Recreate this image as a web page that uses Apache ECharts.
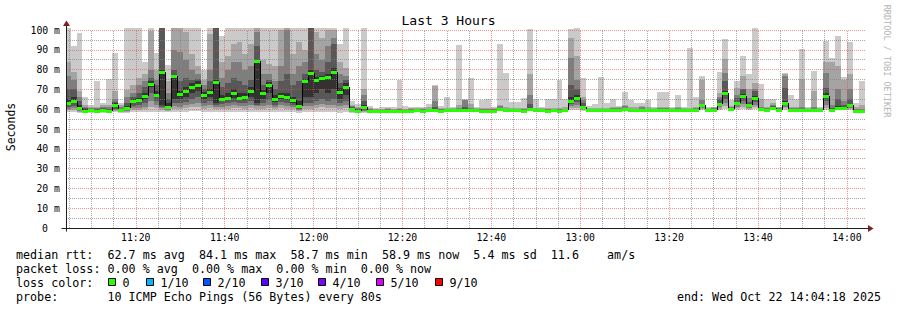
<!DOCTYPE html>
<html><head><meta charset="utf-8">
<script src="https://cdn.jsdelivr.net/npm/echarts@6/dist/echarts.min.js"></script>
<style>html,body{margin:0;padding:0;background:#fff}#c{width:897px;height:310px}</style>
</head><body><div id="c"></div>
<script>
// ---- data (seconds after 11:00:00; one sample every 80 s) ----
const startSec = 240;
const stepSec = 80;
const viewMin = 258;     // 11:04:18
const viewMax = 11058;   // 14:04:18
const tickValues = [1200, 2400, 3600, 4800, 6000, 7200, 8400, 9600, 10800];
const tickLabels = ['11:20', '11:40', '12:00', '12:20', '12:40', '13:00', '13:20', '13:40', '14:00'];
const minorTickValues = [300,600,900,1500,1800,2100,2700,3000,3300,3900,4200,4500,5100,5400,5700,6300,6600,6900,7500,7800,8100,8700,9000,9300,9900,10200,10500];
const minorYValues = [5, 15, 25, 35, 45, 55, 65, 75, 85, 95];

// sorted ping rtts (ms), ping1 = fastest ... ping10 = slowest
const ping1 = [58.5,58.5,58,58,58.2,58,58.3,58,58.5,58.2, 58,58.5,58.5,58.5,58.5,58.5,58.5,58.5,58.5,58.5, 58.5,59,59,58.5,58.5,58.5,58.5,58.5,58.5,58.5, 58.5,58.5,58.5,58.5,58.5,58.5,58.5,58.5,58.5,58.3, 58.5,58.5,58.5,58.5,58.5,58.5,58.3,58.5,58,58, 58,58.3, 58.4,58.4,58.6,58.4,58.7,58.5,58.7,58.8,58.6,58.9, 58.9,58.7,58.8,59,58.9,59,59.1,58.8,58.7,58.6, 58.7,59,59,58.8,58.9,58.7,59,58.9,58.8,58.7, 58.8,58.7,58.8,59.5,59.5,59,58.9,58.8, 58.9,58.9,59.2,59.2,59.2,59,59,59,59,58.9, 59.2,59.2,58.9,59.2,58.9,58.9,59.2,59.5,58.9,59.2, 59.5,60,59.4,59.8,60,59.6,60,59.2,59.2,59.6, 59.2,59.8,59.2,59.2,59.2,58.9,59.2,58.9,59.8,59.2, 59.5,59.5,59.6,58.4,58.3];
const ping2 = [59.5,59.5,58.5,58.2,58.5,58.2,58.6,58.2,59,58.5, 58.5,59.5,59.5,60,61,60.5,59.8,59,60,60, 60.5,61,61,60,60.5,60,60,60,60.5,60.5, 60,60.5,60,60,60.5,60,60.5,60,60,59, 60,60,60.5,61,60.5,60.5,60,60.5,58.5,58.2, 58.5,58.5, 58.6,58.6,58.8,58.6,58.9,58.7,58.9,59,58.8,59.1, 59.1,58.9,59,59.2,59.1,59.3,59.3,59,58.9,58.8, 58.9,59.4,59.2,59,59.1,58.9,59.4,59.1,59,58.9, 59,58.9,59,60.5,60.5,59.5,59.1,59, 59.1,59.1,59.4,59.4,59.5,59.2,59.2,59.2,59.2,59.1, 59.4,59.4,59.1,59.4,59.1,59.1,59.4,60,59.1,59.4, 60.2,61.5,59.6,60.5,61,60.2,61,59.4,59.4,59.9, 59.4,60.5,59.4,59.4,59.4,59.1,59.4,59.1,60.8,59.4, 59.9,59.9,60.2,58.6,58.5];
const ping3 = [60,60.5,59,58.4,58.8,58.4,58.9,58.4,59.5,58.8, 59,60.5,60.5,61,64,62,60.5,59.5,61.5,61, 62,62.5,63,61.5,62,61,61,61.5,62,61.5, 61.5,62,61.5,61.5,62,61,62,61.5,61,59.5, 61.5,61.5,62,62.5,62,62,61.5,62,59,58.5, 59,58.7, 58.7,58.7,58.9,58.7,59,58.8,59,59.1,58.9,59.2, 59.2,59,59.1,59.3,59.2,59.5,59.4,59.1,59,58.9, 59,59.6,59.3,59.1,59.2,59,59.6,59.2,59.1,59, 59.1,59,59.1,61.5,62,60,59.2,59.1, 59.2,59.2,59.5,59.5,59.7,59.3,59.3,59.3,59.3,59.2, 59.5,59.5,59.2,59.5,59.2,59.2,59.5,60.5,59.2,59.5, 61,63,59.8,61.3,62.5,60.8,62,59.6,59.5,60.2, 59.5,61.3,59.5,59.5,59.5,59.2,59.5,59.2,62,59.5, 60.2,60.2,60.8,58.7,58.6];
const ping4 = [61,61.5,59.5,58.6,59,58.6,59.2,58.6,60,59, 59.5,61.5,62,63,68,64,61,60,63,63, 63.5,65,66,63,64,62,62.5,63,63.5,63, 63,64,62,63,64.5,62,63.5,63,62,60, 63,63,64,65,64,65,63,64,59.5,58.8, 59.5,58.9, 58.8,58.8,59,58.8,59.1,58.9,59.1,59.2,59,59.3, 59.3,59.1,59.2,59.4,59.3,59.6,59.5,59.2,59.1,59, 59.1,59.8,59.4,59.2,59.3,59.1,59.8,59.3,59.2,59.1, 59.2,59.1,59.2,62.5,63.5,60.5,59.3,59.2, 59.3,59.3,59.6,59.6,59.9,59.4,59.4,59.4,59.4,59.3, 59.6,59.6,59.3,59.6,59.3,59.3,59.6,61,59.3,59.6, 61.8,65,59.9,62,64,61.3,63.5,59.7,59.6,60.4, 59.6,62,59.6,59.6,59.6,59.3,59.6,59.3,64,59.6, 60.5,60.5,61.3,58.8,58.7];
const ping5 = [62,63,60,58.8,59.2,58.8,59.5,58.8,61,59.3, 60,63,63.5,65,71,66,62,60.5,65,65, 66,68,69,65,66,63,64,64.5,65.5,64.5, 64.5,66,63,65,68,63.5,65,64.5,63,60.5, 66,66,68,70,68,70,65,67,59.8,59, 60,59.1, 58.9,58.9,59.1,58.9,59.2,59,59.2,59.3,59.1,59.4, 59.4,59.2,59.3,59.5,59.4,59.7,59.6,59.3,59.2,59.1, 59.2,60,59.5,59.3,59.4,59.2,60,59.4,59.3,59.2, 59.3,59.2,59.3,63.5,65,61,59.4,59.3, 59.4,59.4,59.7,59.7,60.1,59.5,59.5,59.5,59.5,59.4, 59.7,59.7,59.4,59.7,59.4,59.4,59.7,61.5,59.4,59.7, 62.3,67,60,62.8,65.5,61.7,64.8,59.8,59.7,60.6, 59.7,62.8,59.7,59.7,59.7,59.4,59.7,59.4,66,59.7, 60.7,60.7,61.7,58.9,58.8];
const ping6 = [65,66,62,60,59.8,59.5,60,59.5,63,59.8, 61.5,65,65.5,68,74,69,80,63,77,69, 71,73,74,68.5,70,75,67,68,70,68, 68,71,85,69.5,73.5,67,68,68,66,64, 75.5,80,76.5,77,78,81,70.5,73,60.7,59.6, 62,59.5, 59.2,59.2,59.4,59.2,59.5,59.3,59.5,59.6,59.4,59.7, 59.8,59.5,59.6,59.8,59.7,60,59.9,59.6,59.5,59.4, 59.5,60.4,59.8,59.6,59.7,59.5,60.4,59.7,59.6,59.5, 59.6,59.5,59.6,66,67,61.5,59.7,59.6, 59.7,59.7,60,60,60.4,59.8,59.8,59.8,59.8,59.7, 60,60,59.7,60,59.7,59.7,60,62.5,59.7,60, 63.2,69,60.4,63.8,67.5,62.3,66.5,60.1,60,61, 60,64,60,60,60,59.7,60,59.7,68,60.1, 61.5,61.2,62.5,59.2,59.1];
const ping7 = [70,70,64,60.5,60,60,60.5,60,63.5,60.3, 63,66,68,71,76,72,102,65,80,74, 76,75,75.5,70,74,101,71,73,76,74, 72,75,92,72,75,70,74,78,72,74, 78,101,80,79,84,93,73,75,61,60, 64,59.8, 59.4,59.5,59.6,59.4,59.7,59.5,59.7,59.8,59.6,59.9, 61,59.7,59.8,60,60,61,60.1,59.8,59.7,59.6, 59.7,60.8,60,59.8,59.9,59.7,62.5,59.9,59.8,59.7, 59.8,59.7,59.8,72,70,63,59.9,59.8, 59.9,59.9,60.2,60.2,60.8,60,60,60.2,60,59.9, 60.2,60.2,59.9,60.2,59.9,59.9,60.2,62.8,59.9,60.2, 65,74,60.7,65.5,70,63.5,69,60.5,60.2,61.4, 60.2,70.8,60.2,60.2,60.3,59.9,60.3,59.9,70.5,60.6, 65,62,65,59.5,59.4];
const ping8 = [77,75,66,61,60.5,60.5,61,61,65,61, 66,68,72,74,80,75,104,68,90,89, 85,80,78,72,80,104,76,80,84,84, 80,82,99,78,78,74,82,100,78,82, 84,103,88,85,92,96,78,77,61.5,60.5, 67,60.2, 59.7,59.8,59.9,59.7,60,59.8,60,60.1,59.9,60.3, 64,60,60.2,60.3,60.5,64.5,60.5,60.1,60,59.9, 60,61.5,60.3,60.1,60.2,60,67,60.2,60.1,60, 60.1,60,60.2,86,75,64.5,60.2,60.1, 60.2,60.2,60.5,60.5,61.5,60.3,60.3,61,60.3,60.2, 60.5,60.5,60.2,60.5,60.2,60.2,60.5,64.6,60.2,60.5, 66,78.5,61,67,70.3,65.8,70.3,61,60.5,62, 60.5,77,60.5,60.5,61,60.2,61,60.2,78.5,62, 70,64,70,60,60];
const ping9 = [84,79,69,62,61,61,62,62,69,62, 69.5,72,76,78,99.5,80,105,74,101,101, 99,88,82,75,98,105,84,87,93,94, 88,93,101,85,83,82,100,101,88,94, 90,105,99,96,100,100,84,81,62,61, 70,60.8, 60.2,60.3,60.4,60.2,60.6,60.3,60.5,60.6,60.4,61, 71.5,60.6,60.8,60.8,62,64.8,62.5,60.6,60.6,60.5, 60.5,62,60.9,60.6,60.8,60.6,77.6,60.8,60.5,60.6, 60.7,60.6,61,96,87,66,60.7,60.6, 60.8,60.8,61,61,62,60.9,60.9,61.5,60.9,60.6, 61,61,60.6,61,60.6,60.8,61,75,60.5,60.9, 68.3,85.6,61.5,70.8,77,70,73,65,61,63, 60.9,77.8,61,61,75.4,60.6,69,60.6,84,84, 82,75,78,61,62];
const ping10 = [105,92,98.5,66,62,74,63,75.4,88.6,63, 102,102,102,84,103,88.5,106,82.5,106,106, 106,106,105,80,106,106,97,101,101,101, 101,101,106,101,101,101,103,104,103,101, 103,106,103,103,103,103,93,101,64,62.5, 101,61.5, 60.8,61.2,61,60.9,74.6,61.5,61.2,61,60.9,62.5, 72,61.8,66.3,61.2,92.4,65,76,61,64.4,65, 61,92.9,78.5,63.6,63.6,65.8,100.5,65,61,65, 65,74.7,65,100.5,101,76,61.5,62.5, 76.4,62.9,65.4,61.5,68.6,64.6,63.2,63.2,64.6,61, 68.6,68.6,61,67,61,90.8,66.3,77,60.9,61.3, 78.8,95.4,64.6,74.2,87,78,101.9,72.5,65,65.3, 61,78.5,67,65.2,90.3,61.2,79.3,61,94.6,86.1, 97.1,76.4,94,63,74.2];
const median = [63.3,63.9,60.7,59.0,59.5,59.0,59.7,59.0,61.9,59.5, 60.7,63.9,64.4,66.8,72.9,67.3,79,61.2,76.6,67.5, 69.2,71.4,72.4,67,68.6,73.7,65.4,65.9,68.1,65.8, 66.3,69.2,84.1,68,72,65.3,66.6,66.3,64.6,61.4, 74.3,78.5,75,75.7,76.2,79,68.9,71.4,60.2,59.2, 61.3,59.2, 59.0,59.0,59.2,59.0,59.3,59.1,59.3,59.4,59.2,59.5, 59.5,59.3,59.4,59.6,59.5,59.8,59.7,59.4,59.3,59.2, 59.3,60.2,59.6,59.4,59.5,59.3,60.2,59.5,59.4,59.3, 59.4,59.3,59.4,64,65.8,61.2,59.5,59.4, 59.5,59.5,59.8,59.8,60.2,59.6,59.6,59.6,59.6,59.5, 59.8,59.8,59.5,59.8,59.5,59.5,59.8,61.9,59.5,59.8, 62.7,68,60.2,63.2,66.6,61.9,65.6,59.9,59.8,60.8, 59.8,63.2,59.8,59.8,59.8,59.5,59.8,59.5,66.9,59.8, 60.8,60.8,61.9,59,58.9];

// ---- texts ----
const titleText = 'Last 3 Hours';
const yAxisName = 'Seconds';
const watermark = 'RRDTOOL / TOBI OETIKER';
const statsLine1 = 'median rtt:  62.7 ms avg  84.1 ms max  58.7 ms min  58.9 ms now  5.4 ms sd  11.6    am/s';
const statsLine2 = 'packet loss: 0.00 % avg  0.00 % max  0.00 % min  0.00 % now';
const lossTitle = 'loss color:';
const lossLabels = ['0', '1/10', '2/10', '3/10', '4/10', '5/10', '9/10'];
const lossColors = ['#26ff00', '#00b8ff', '#0059ff', '#5e00ff', '#7e00ff', '#dd00ff', '#ff0000'];
const probeLine = 'probe:       10 ICMP Echo Pings (56 Bytes) every 80s';
const endLine = 'end: Wed Oct 22 14:04:18 2025';

// ---- styling ----
const FONT = '"DejaVu Sans Mono", monospace';
const smokeShades = ['#cacaca', '#a4a4a4', '#7e7e7e', '#585858', '#323232'];
const MGRID = 'rgba(222,79,79,0.6)';
const GRID = 'rgba(130,130,130,0.7)';
const nb = s => s.replace(/ /g, '\u00a0');

const pings = [ping1, ping2, ping3, ping4, ping5, ping6, ping7, ping8, ping9, ping10];
const smokeData = median.map((m, k) => [startSec + stepSec * k, startSec + stepSec * (k + 1)].concat(pings.map(p => p[k])));
const medData = median.map((m, k) => [startSec + stepSec * k, startSec + stepSec * (k + 1), m, k > 0 ? median[k - 1] : m]);

const TOPV = 101; // smoke may run 2px above the 100 line
function renderSmoke(params, api) {
  const cs = params.coordSys;
  const t0 = api.value(0), t1 = api.value(1);
  const children = [];
  for (let i = 0; i < 5; i++) {
    const lo = Math.min(api.value(2 + i), TOPV), hi = Math.min(api.value(11 - i), TOPV);
    const a = api.coord([t0, hi]), b = api.coord([t1, lo]);
    const x0 = Math.round(Math.max(a[0], cs.x)), x1 = Math.round(Math.min(b[0], cs.x + cs.width));
    const y0 = Math.round(a[1]), y1 = Math.round(b[1]);
    if (x1 <= x0 || y1 <= y0) continue;
    children.push({type: 'rect', shape: {x: x0, y: y0, width: x1 - x0, height: y1 - y0}, style: {fill: smokeShades[i]}});
  }
  return {type: 'group', children};
}
function renderMedian(params, api) {
  const cs = params.coordSys;
  const t0 = api.value(0), t1 = api.value(1), m = api.value(2), pm = api.value(3);
  const a = api.coord([t0, m]), b = api.coord([t1, m]), p = api.coord([t0, pm]);
  const x0 = Math.round(Math.max(a[0], cs.x)), x1 = Math.round(b[0]);
  const y = Math.round(a[1]);
  const py = Math.round(p[1]);
  const children = [];
  if (py !== y) children.push({type: 'line', shape: {x1: x0 + 0.5, y1: py, x2: x0 + 0.5, y2: y}, style: {stroke: '#000', lineWidth: 1}});
  children.push({type: 'rect', shape: {x: x0, y: y - 1, width: x1 - x0, height: 3}, style: {fill: lossColors[0]}});
  return {type: 'group', children};
}

const chart = echarts.init(document.getElementById('c'), null, {renderer: 'svg', width: 897, height: 310});
const gridLineData = minorTickValues.map(v => ({xAxis: v, lineStyle: {color: GRID, width: 1, type: [1, 1]}}))
  .concat(minorYValues.map(v => ({yAxis: v, lineStyle: {color: GRID, width: 1, type: [1, 1]}})))
  .concat(tickValues.map(v => ({xAxis: v, lineStyle: {color: MGRID, width: 1, type: [1, 1]}})));
const option = {
  animation: false,
  backgroundColor: '#ffffff',
  grid: {left: 66, top: 30, width: 800, height: 198, containLabel: false},
  xAxis: {
    type: 'value', min: viewMin, max: viewMax, z: 3,
    axisLine: {show: false}, axisTick: {show: false}, splitLine: {show: false},
    axisLabel: {
      customValues: tickValues, margin: 4, color: '#000', fontFamily: FONT, fontSize: 9.8,
      formatter: v => { const i = tickValues.indexOf(v); return i >= 0 ? tickLabels[i] : ''; }
    }
  },
  yAxis: {
    type: 'value', min: 0, max: 100, interval: 10, z: 3,
    axisLine: {show: false}, axisTick: {show: false},
    axisLabel: {
      margin: 6, color: '#000', fontFamily: FONT, fontSize: 9.8,
      formatter: v => v === 0 ? '{z|0}' : v + ' m',
      rich: {z: {padding: [0, 12, 0, 0], fontFamily: FONT, fontSize: 9.8, color: '#000'}}
    },
    splitLine: {show: true, lineStyle: {color: MGRID, width: 1, type: [1, 1]}}
  },
  series: [
    {
      type: 'custom', name: 'smoke', z: 2, renderItem: renderSmoke, data: smokeData,
      encode: {x: [0, 1], y: [2, 11]}, silent: true,
      markLine: {
        silent: true, symbol: ['none', 'none'], z: 3, label: {show: false}, animation: false,
        data: gridLineData
      }
    },
    {
      type: 'custom', name: 'median', z: 4, renderItem: renderMedian, data: medData,
      encode: {x: [0, 1], y: 2}, silent: true
    }
  ]
};
chart.setOption(option);

// ---- axis lines, arrows and text blocks ----
const o = chart.convertToPixel({gridIndex: 0}, [viewMin, 0]);
const e = chart.convertToPixel({gridIndex: 0}, [viewMax, 100]);
const ax = Math.round(o[0]) + 0.5, ay = Math.round(o[1]) + 0.5;
const rx = Math.round(e[0]), ty = Math.round(e[1]);
const AXIS = '#1f1f1f', ARROW = '#801f1f';
const txt = (text, x, y, size, extra) => Object.assign({type: 'text', x, y, z: 10, silent: true,
  style: Object.assign({text: nb(text), font: size + 'px ' + FONT, fill: '#000', align: 'left', verticalAlign: 'middle'}, extra || {})});
const graphics = [
  {type: 'line', z: 10, silent: true, shape: {x1: ax - 5, y1: ay, x2: rx + 2, y2: ay}, style: {stroke: AXIS, lineWidth: 1}},
  {type: 'line', z: 10, silent: true, shape: {x1: ax, y1: ay + 3, x2: ax, y2: ty - 4}, style: {stroke: AXIS, lineWidth: 1}},
  {type: 'polygon', z: 10, silent: true, shape: {points: [[rx + 2, ay - 3.5], [rx + 7.5, ay], [rx + 2, ay + 3.5]]}, style: {fill: ARROW}},
  {type: 'polygon', z: 10, silent: true, shape: {points: [[ax - 3.5, ty - 4], [ax, ty - 9.5], [ax + 3.5, ty - 4]]}, style: {fill: ARROW}},
  txt(titleText, 448.5, 20, 13, {align: 'center'}),
  Object.assign(txt(yAxisName, 11, 127, 11.5, {align: 'center'}), {rotation: Math.PI / 2}),
  Object.assign(txt(watermark, 887, 61, 8.5, {align: 'center', fill: '#b5b5b5'}), {rotation: -Math.PI / 2}),
  txt(statsLine1, 16, 254.5, 11.7),
  txt(statsLine2, 16, 268.5, 11.7),
  txt(lossTitle, 16, 282.5, 11.7),
  txt(probeLine, 16, 296.5, 11.7),
  txt(endLine, 881, 296.5, 11.7, {align: 'right'})
];
const boxX = [108, 146, 203, 261, 318, 376, 435];
lossLabels.forEach((lab, i) => {
  graphics.push({type: 'rect', z: 10, silent: true, shape: {x: boxX[i] + 0.5, y: 278.5, width: 7, height: 7}, style: {fill: lossColors[i], stroke: '#000', lineWidth: 1}});
  graphics.push(txt(lab, boxX[i] + 14.5, 282.5, 11.7));
});
chart.setOption({graphic: graphics});
</script>
</body></html>
